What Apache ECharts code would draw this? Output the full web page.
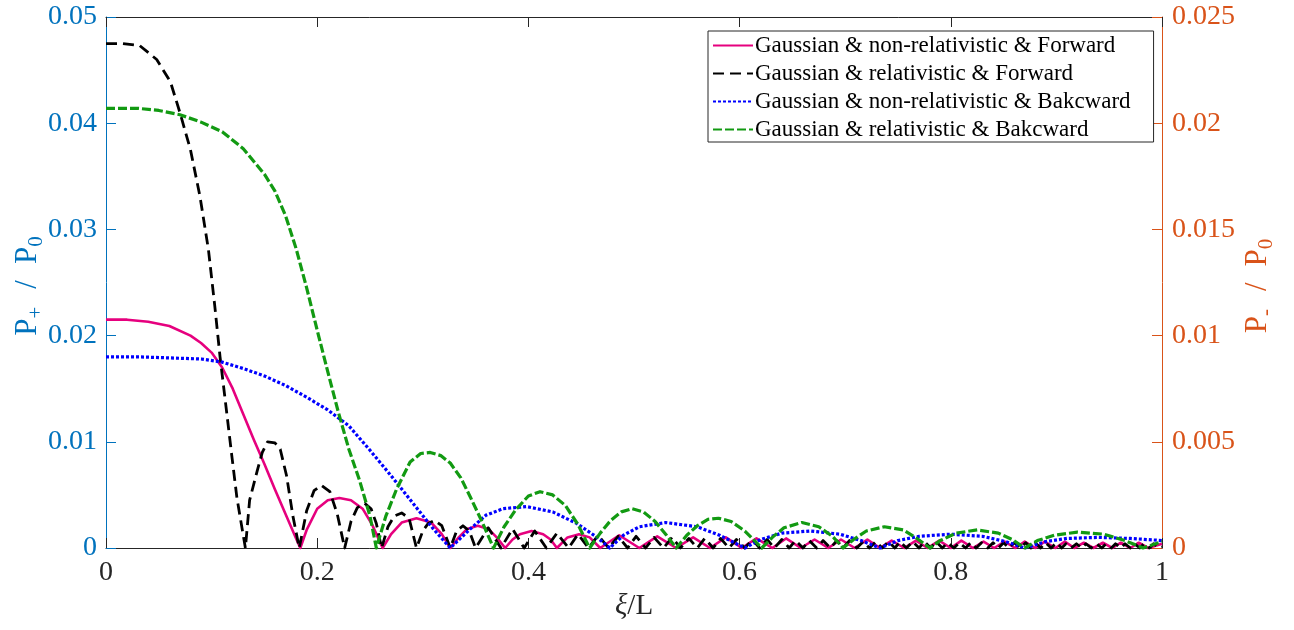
<!DOCTYPE html>
<html>
<head>
<meta charset="utf-8">
<script src="https://cdn.jsdelivr.net/npm/echarts@6/dist/echarts.min.js"></script>
<style>
  html, body { margin: 0; padding: 0; background: #ffffff; }
  #chart { width: 1294px; height: 630px; }
</style>
</head>
<body>
<div id="chart"></div>
<script>
// ---- data (x = xi/L) ----
var seriesNames = [
  'Gaussian & non-relativistic & Forward',
  'Gaussian & relativistic & Forward',
  'Gaussian & non-relativistic & Bakcward',
  'Gaussian & relativistic & Bakcward'
];

// P+/P0 (left axis)
var fwdNonRel = [
  [0,0.0215],[0.02,0.0215],[0.04,0.0213],[0.06,0.0209],[0.08,0.0200],[0.09,0.0193],[0.10,0.0184],[0.11,0.0170],
  [0.12,0.0150],[0.13,0.0126],[0.14,0.0102],[0.15,0.0079],[0.16,0.0055],[0.17,0.0032],[0.18,0.0009],[0.184,0],
  [0.19,0.0017],[0.20,0.0037],[0.21,0.0045],[0.221,0.0047],[0.232,0.0045],[0.243,0.0037],[0.252,0.0022],[0.262,0],
  [0.27,0.0013],[0.28,0.0024],[0.294,0.0028],[0.308,0.0024],[0.318,0.0013],[0.326,0],
  [0.334,0.0010],[0.342,0.0018],[0.352,0.0021],[0.362,0.0018],[0.370,0.0010],[0.378,0],
  [0.385,0.0008],[0.392,0.0013],[0.403,0.0016],[0.414,0.0013],[0.421,0.0008],[0.427,0],
  [0.437,0.0010],[0.448,0.0013],[0.458,0.0010],[0.468,0],
  [0.486,0.0012],[0.505,0],[0.522,0.0011],[0.540,0],[0.556,0.0010],[0.572,0],[0.587,0.0010],[0.602,0],
  [0.616,0.0009],[0.631,0],[0.644,0.0009],[0.658,0],[0.671,0.0008],[0.684,0],[0.696,0.0008],[0.709,0],
  [0.721,0.0008],[0.733,0],[0.744,0.0007],[0.756,0],[0.767,0.0007],[0.778,0],[0.789,0.0007],[0.800,0],
  [0.810,0.0007],[0.821,0],[0.831,0.0006],[0.841,0],[0.851,0.0006],[0.861,0],[0.870,0.0006],[0.880,0],
  [0.889,0.0006],[0.899,0],[0.908,0.0006],[0.917,0],[0.926,0.0005],[0.935,0],[0.944,0.0005],[0.953,0],
  [0.961,0.0005],[0.970,0],[0.978,0.0005],[0.987,0],[1.0,0.0004]
];

var fwdRel = [
  [0,0.0475],[0.016,0.0475],[0.032,0.0473],[0.048,0.0460],[0.061,0.0439],[0.070,0.0410],[0.080,0.0375],
  [0.089,0.0331],[0.097,0.0281],[0.103,0.0228],[0.108,0.0180],[0.114,0.0130],[0.119,0.0088],[0.124,0.0047],[0.132,0],
  [0.136,0.0045],[0.143,0.0072],[0.148,0.0090],[0.153,0.0100],[0.160,0.0099],[0.165,0.0093],[0.171,0.0068],[0.177,0.0030],[0.183,0],
  [0.190,0.0035],[0.197,0.0054],[0.204,0.0059],[0.212,0.0053],[0.219,0.0032],[0.226,0],
  [0.232,0.0025],[0.238,0.0038],[0.245,0.0042],[0.251,0.0037],[0.256,0.0023],[0.261,0],
  [0.267,0.0020],[0.273,0.0030],[0.280,0.0033],[0.287,0.0028],[0.294,0],
  [0.300,0.0016],[0.305,0.0023],[0.311,0.0026],[0.318,0.0021],[0.326,0],
  [0.332,0.0016],[0.338,0.0021],[0.344,0.0016],[0.350,0],
  [0.362,0.0019],[0.374,0],[0.385,0.0018],[0.396,0],[0.406,0.0016],[0.417,0],[0.427,0.0014],[0.438,0],
  [0.447,0.0013],[0.457,0],[0.466,0.0012],[0.476,0],[0.485,0.0011],[0.494,0],[0.502,0.0011],[0.511,0],
  [0.519,0.0010],[0.528,0],[0.536,0.0010],[0.544,0],[0.552,0.0009],[0.560,0],[0.567,0.0009],[0.575,0],
  [0.582,0.0009],[0.590,0],[0.597,0.0008],[0.605,0],[0.612,0.0008],[0.619,0],[0.626,0.0008],[0.633,0],
  [0.640,0.0008],[0.647,0],[0.653,0.0007],[0.660,0],[0.666,0.0007],[0.673,0],[0.679,0.0007],[0.686,0],
  [0.692,0.0007],[0.698,0],[0.704,0.0007],[0.711,0],[0.717,0.0006],[0.723,0],[0.729,0.0006],[0.735,0],
  [0.741,0.0006],[0.747,0],[0.752,0.0006],[0.758,0],[0.764,0.0006],[0.770,0],[0.775,0.0006],[0.781,0],
  [0.786,0.0006],[0.792,0],[0.797,0.0005],[0.803,0],[0.808,0.0005],[0.814,0],[0.819,0.0005],[0.824,0],
  [0.829,0.0005],[0.835,0],[0.840,0.0005],[0.845,0],[0.850,0.0005],[0.855,0],[0.860,0.0005],[0.866,0],
  [0.871,0.0005],[0.876,0],[0.880,0.0005],[0.885,0],[0.890,0.0005],[0.895,0],[0.900,0.0005],[0.905,0],
  [0.909,0.0004],[0.914,0],[0.919,0.0004],[0.924,0],[0.928,0.0004],[0.933,0],[0.938,0.0004],[0.943,0],
  [0.947,0.0004],[0.952,0],[0.956,0.0004],[0.961,0],[0.965,0.0004],[0.970,0],[0.974,0.0004],[0.979,0],
  [0.983,0.0004],[0.988,0],[0.992,0.0004],[0.997,0],[1.0,0.0001]
];

// P-/P0 (right axis)
var bwdNonRel = [
  [0,0.0090],[0.03,0.0090],[0.06,0.00895],[0.09,0.0089],[0.11,0.00875],[0.13,0.00845],[0.15,0.0081],[0.17,0.00765],
  [0.19,0.0071],[0.21,0.0065],[0.23,0.00575],[0.25,0.0046],[0.27,0.0034],[0.29,0.00215],[0.31,0.0009],[0.326,0],
  [0.345,0.0009],[0.36,0.00155],[0.376,0.00185],[0.398,0.00195],[0.423,0.0017],[0.446,0.00115],[0.465,0.0005],[0.477,0],
  [0.49,0.0006],[0.505,0.0010],[0.53,0.0012],[0.56,0.0010],[0.581,0.0006],[0.605,0],
  [0.62,0.0004],[0.64,0.0007],[0.667,0.0008],[0.695,0.00065],[0.715,0.00035],[0.733,0],
  [0.75,0.00035],[0.77,0.00055],[0.80,0.00065],[0.83,0.00055],[0.852,0.0003],[0.870,0],
  [0.89,0.0003],[0.91,0.00045],[0.94,0.0005],[0.97,0.00045],[1.0,0.00035]
];

var bwdRel = [
  [0,0.0207],[0.03,0.0207],[0.05,0.0206],[0.07,0.0204],[0.09,0.02005],[0.11,0.0196],[0.13,0.0188],[0.15,0.0176],
  [0.16,0.0168],[0.17,0.01565],[0.18,0.0141],[0.19,0.01225],[0.20,0.01025],[0.21,0.0083],[0.22,0.0064],[0.23,0.00465],
  [0.24,0.0032],[0.25,0.0015],[0.256,0],
  [0.265,0.0015],[0.275,0.00275],[0.288,0.00405],[0.298,0.00445],[0.307,0.0045],[0.317,0.00435],[0.326,0.0040],
  [0.336,0.0033],[0.345,0.0024],[0.356,0.00125],[0.367,0],
  [0.377,0.0010],[0.388,0.0018],[0.40,0.00245],[0.411,0.00265],[0.423,0.0025],[0.435,0.0020],[0.447,0.0011],[0.458,0],
  [0.468,0.0007],[0.478,0.0013],[0.488,0.0017],[0.498,0.00185],[0.509,0.0017],[0.52,0.00125],[0.53,0.00065],[0.54,0],
  [0.55,0.0006],[0.56,0.00105],[0.57,0.00135],[0.58,0.0014],[0.592,0.00125],[0.605,0.0008],[0.621,0],
  [0.631,0.0005],[0.642,0.00095],[0.659,0.0012],[0.675,0.0010],[0.688,0.00055],[0.698,0],
  [0.708,0.0004],[0.72,0.0008],[0.737,0.0010],[0.755,0.00085],[0.768,0.00045],[0.78,0],
  [0.79,0.00035],[0.805,0.0007],[0.825,0.00085],[0.845,0.0007],[0.858,0.0004],[0.87,0],
  [0.882,0.00035],[0.898,0.0006],[0.92,0.00075],[0.945,0.00065],[0.965,0.00035],[0.982,0],[1.0,0.0003]
];

var xTicks = { min: 0, max: 1, step: 0.2 };
var leftTicks = { min: 0, max: 0.05, step: 0.01 };
var rightTicks = { min: 0, max: 0.025, step: 0.005 };

// ---- styling ----
var FONT = '"Liberation Serif", "Times New Roman", serif';
var AX = '#262626';
var LEFTC = '#0072BD';
var RIGHTC = '#D95319';

var chart = echarts.init(document.getElementById('chart'), null, { renderer: 'canvas' });

function lineSeries(name, data, yIdx, color, width, type) {
  return {
    name: name, type: 'line', data: data, yAxisIndex: yIdx,
    symbol: 'none', smooth: false, clip: false,
    lineStyle: { color: color, width: width, type: type, cap: 'butt', join: 'round' },
    itemStyle: { color: color },
    emphasis: { disabled: true }
  };
}

function axisNameRich(color) {
  return {
    m: { fontFamily: FONT, fontSize: 31, color: color, lineHeight: 38, verticalAlign: 'middle' },
    s: { fontFamily: FONT, fontSize: 21, color: color, lineHeight: 16, verticalAlign: 'bottom', padding: [0, 7, 0, 0] },
    g: { fontFamily: FONT, fontSize: 31, color: color, lineHeight: 38, verticalAlign: 'middle', padding: [0, 16, 0, 11] }
  };
}

var option = {
  animation: false,
  backgroundColor: '#ffffff',
  grid: { left: 106, right: 132, top: 17, bottom: 82, containLabel: false, outerBoundsMode: 'none' },
  legend: {
    orient: 'vertical', left: 708, top: 31,
    data: seriesNames,
    itemWidth: 40, itemHeight: 14, itemGap: 5,
    padding: [3, 23, 1, 4],
    itemStyle: { opacity: 0, borderWidth: 0 },
    backgroundColor: '#ffffff', borderColor: AX, borderWidth: 1,
    textStyle: { fontFamily: FONT, fontSize: 23, lineHeight: 22, color: '#000000', padding: [0, 0, 0, -3] }
  },
  xAxis: [
    {
      type: 'value', position: 'bottom', min: xTicks.min, max: xTicks.max, interval: xTicks.step,
      axisLine: { show: true, onZero: false, lineStyle: { color: AX, width: 1 } },
      axisTick: { show: true, inside: true, length: 10, lineStyle: { color: AX } },
      axisLabel: { fontFamily: FONT, fontSize: 28, color: AX, margin: 11 },
      splitLine: { show: false },
      name: '{i|\u03BE}{n|/L}', nameLocation: 'middle', nameGap: 44, nameMoveOverlap: false,
      nameTextStyle: { rich: {
        i: { fontFamily: FONT, fontSize: 29, fontStyle: 'italic', color: AX },
        n: { fontFamily: FONT, fontSize: 29, color: AX }
      } }
    },
    {
      type: 'value', position: 'top', min: xTicks.min, max: xTicks.max, interval: xTicks.step,
      axisLine: { show: true, onZero: false, lineStyle: { color: AX, width: 1 } },
      axisTick: { show: true, inside: true, length: 10, lineStyle: { color: AX } },
      axisLabel: { show: false }, splitLine: { show: false }
    }
  ],
  yAxis: [
    {
      type: 'value', position: 'left', min: leftTicks.min, max: leftTicks.max, interval: leftTicks.step,
      axisLine: { show: true, onZero: false, lineStyle: { color: LEFTC, width: 1 } },
      axisTick: { show: true, inside: true, length: 10, lineStyle: { color: LEFTC } },
      axisLabel: { fontFamily: FONT, fontSize: 28, color: LEFTC, margin: 9 },
      splitLine: { show: false },
      name: '{m|P}{s|+}{g|/}{m|P}{s|0}', nameLocation: 'middle', nameRotate: 90, nameGap: 59,
      nameMoveOverlap: false,
      nameTextStyle: { rich: axisNameRich(LEFTC) }
    },
    {
      type: 'value', position: 'right', min: rightTicks.min, max: rightTicks.max, interval: rightTicks.step,
      axisLine: { show: true, onZero: false, lineStyle: { color: RIGHTC, width: 1 } },
      axisTick: { show: true, inside: true, length: 10, lineStyle: { color: RIGHTC } },
      axisLabel: { fontFamily: FONT, fontSize: 28, color: RIGHTC, margin: 10 },
      splitLine: { show: false },
      name: '{m|P}{s|-}{g|/}{m|P}{s|0}', nameLocation: 'middle', nameRotate: 90, nameGap: 77,
      nameMoveOverlap: false,
      nameTextStyle: { rich: axisNameRich(RIGHTC) }
    }
  ],
  series: [
    lineSeries(seriesNames[0], fwdNonRel, 0, '#E6007E', 2.6, 'solid'),
    lineSeries(seriesNames[1], fwdRel, 0, '#000000', 2.8, [11, 6]),
    lineSeries(seriesNames[2], bwdNonRel, 1, '#0000FF', 3.2, [3, 2]),
    lineSeries(seriesNames[3], bwdRel, 1, '#129A12', 3.2, [9, 3])
  ]
};
chart.setOption(option);
</script>
</body>
</html>
